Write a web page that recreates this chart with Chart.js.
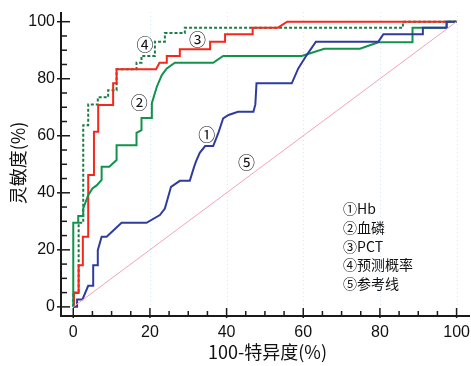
<!DOCTYPE html>
<html>
<head>
<meta charset="utf-8">
<script src="https://cdn.jsdelivr.net/npm/chart.js@4.4.0/dist/chart.umd.min.js"></script>
<style>
html,body{margin:0;padding:0;background:#fff;}
canvas{display:block;}
</style>
</head>
<body>
<canvas id="c" width="471" height="366"></canvas>
<script>
// ---- data ----
const tickValues = [0, 20, 40, 60, 80, 100];
const minorTickValues = [0,5,10,15,20,25,30,35,40,45,50,55,60,65,70,75,80,85,90,95,100];

// ① Hb
const hbX = [0,1,1,2.4,3.9,5.2,5.2,6.4,6.4,7.4,8.7,12.6,19.1,22.6,23.9,25.5,27.8,30.4,31.5,32,33,34.4,36.5,37.8,39.1,40.5,43,47,47.5,47.8,57,58.7,60.9,63.3,79.6,80.9,91.2,91.2,97.4,97.4,100];
const hbY = [0,0,2.6,2.6,7.4,7.4,14.6,14.6,19.9,24.6,24.6,29.5,29.5,32.2,34.5,42.1,44.2,44.2,49,50.9,54,56.4,56.4,60.8,66.1,67.3,68.4,68.4,71,78.4,78.4,83.6,88.3,93,93,95.6,95.6,97.9,97.9,100,100];

// ② 血磷
const pX = [0,0,1.3,1.3,2.6,2.6,3.9,5,6.1,7.4,7.4,9.4,11.3,11.3,16.5,16.5,17.8,17.8,20.5,20.5,21.8,23.1,24.4,26.5,36.5,39.1,59.6,65.5,74.8,79.6,88.5,88.5,97.4,97.4,100];
const pY = [0,29.5,29.5,31.9,31.9,34.5,39.2,41.5,42.6,44.5,49.1,49.1,51.5,56.7,56.7,61,62,66.2,66.2,71.4,77.2,81.3,83.6,85.6,85.6,88,88,90.5,90.5,92.8,92.8,97.9,97.9,100,100];

// ③ PCT
const pctX = [0,0.2,0.2,1.4,1.4,2.5,2.5,3.9,3.9,5.4,5.4,6.5,6.5,10.4,10.4,11.3,11.3,21.6,22.5,24.4,24.4,27.8,27.8,35.7,35.7,39.6,39.6,46.8,46.8,53.4,55.8,100];
const pctY = [0,0,4.9,4.9,14.6,14.6,24.6,24.6,46.2,46.2,61.4,61.4,70.8,70.8,78.4,78.4,83.3,83.3,85.6,85.6,88,88,90.3,90.3,93,93,95.6,95.6,97.9,97.9,100,100];

// ④ 预测概率
const probX = [0,0,1.4,1.4,2.6,2.6,3.9,3.9,6.4,6.4,9.1,9.1,11.3,11.3,16.5,16.5,17.8,17.8,21.3,21.3,23.9,23.9,29.1,29.1,86,86,100];
const probY = [0,5,5,29.5,29.5,63.7,63.7,71,71,73.5,73.5,76,76,83.3,83.3,85.6,85.6,88,88,93,93,96,96,97.9,97.9,100,100];

// ⑤ 参考线
const refX = [0, 100];
const refY = [0, 100];

const curveLabels = ['①', '②', '③', '④', '⑤'];
const curveLabelX = [34.8, 17.2, 32.4, 18.7, 45.2];
const curveLabelY = [60.5, 71.7, 93.8, 92.1, 50.5];

const legendTexts = ['①Hb', '②血磷', '③PCT', '④预测概率', '⑤参考线'];
const xTitle = '100-特异度(%)';
const yTitle = '灵敏度(%)';

const pts = (xs, ys) => xs.map((x, i) => ({x: x, y: ys[i]}));

const CJK = '"Noto Sans CJK SC", "Noto Sans", sans-serif';

const decor = {
  id: 'decor',
  beforeDatasetsDraw(chart) {
    const ctx = chart.ctx, xs = chart.scales.x, ys = chart.scales.y;
    ctx.save();
    ctx.strokeStyle = 'rgba(150,200,225,0.4)';
    ctx.lineWidth = 1;
    ctx.setLineDash([1, 3]);
    tickValues.forEach(v => {
      if (v === 0) return;
      const px = Math.round(xs.getPixelForValue(v)) + 0.5;
      ctx.beginPath();
      ctx.moveTo(px, chart.chartArea.top);
      ctx.lineTo(px, ys.getPixelForValue(0));
      ctx.stroke();
    });
    ctx.restore();
  },
  afterDraw(chart) {
    const ctx = chart.ctx, xs = chart.scales.x, ys = chart.scales.y, a = chart.chartArea;
    ctx.save();
    // axes lines
    ctx.strokeStyle = '#1a1a1a';
    ctx.lineWidth = 2;
    ctx.beginPath();
    ctx.moveTo(a.left, a.top);
    ctx.lineTo(a.left, a.bottom);
    ctx.lineTo(a.right, a.bottom);
    ctx.stroke();
    // ticks
    ctx.lineWidth = 1.5;
    minorTickValues.forEach(v => {
      const major = v % 20 === 0;
      const py = ys.getPixelForValue(v);
      ctx.beginPath();
      if (major) { ctx.moveTo(a.left - 4, py); ctx.lineTo(a.left + 9, py); }
      else { ctx.moveTo(a.left, py); ctx.lineTo(a.left + 6, py); }
      ctx.stroke();
      const px = xs.getPixelForValue(v);
      ctx.beginPath();
      if (major) { ctx.moveTo(px, a.bottom + 2); ctx.lineTo(px, a.bottom - 8); }
      else { ctx.moveTo(px, a.bottom); ctx.lineTo(px, a.bottom - 5); }
      ctx.stroke();
    });
    // curve labels
    ctx.fillStyle = '#111';
    ctx.font = '17px ' + CJK;
    ctx.textAlign = 'center';
    ctx.textBaseline = 'middle';
    curveLabels.forEach((t, i) => {
      ctx.fillText(t, xs.getPixelForValue(curveLabelX[i]), ys.getPixelForValue(curveLabelY[i]));
    });
    // legend text
    ctx.font = '14px ' + CJK;
    ctx.textAlign = 'left';
    const lx = xs.getPixelForValue(70.4);
    legendTexts.forEach((t, i) => {
      ctx.fillText(t, lx, ys.getPixelForValue(34.3) + i * 18.6);
    });
    // axis titles
    ctx.font = '18px ' + CJK;
    ctx.textAlign = 'center';
    ctx.fillText(xTitle, (a.left + a.right) / 2 + 2, 352);
    ctx.translate(18.5, 163);
    ctx.rotate(-Math.PI / 2);
    ctx.fillText(yTitle, 0, 0);
    ctx.restore();
  }
};

new Chart(document.getElementById('c'), {
  type: 'line',
  data: {
    datasets: [
      {label: '参考线', data: pts(refX, refY), borderColor: '#f2a3b6', borderWidth: 1, pointRadius: 0},
      {label: 'Hb', data: pts(hbX, hbY), borderColor: '#2f3c9e', borderWidth: 2, pointRadius: 0},
      {label: '血磷', data: pts(pX, pY), borderColor: '#12924a', borderWidth: 2, pointRadius: 0},
      {label: 'PCT', data: pts(pctX, pctY), borderColor: '#f5281c', borderWidth: 2, pointRadius: 0},
      {label: '预测概率', data: pts(probX, probY), borderColor: '#1a7d45', borderWidth: 2, borderDash: [3, 2], pointRadius: 0}
    ]
  },
  options: {
    responsive: false,
    animation: false,
    devicePixelRatio: 1,
    layout: {padding: {top: 12, right: 1, left: 0, bottom: 0}},
    elements: {line: {tension: 0, fill: false, borderJoinStyle: 'miter'}},
    plugins: {legend: {display: false}, tooltip: {enabled: false}},
    scales: {
      x: {
        type: 'linear', min: -3.2, max: 103.5,
        afterBuildTicks: s => { s.ticks = tickValues.map(v => ({value: v})); },
        afterFit: s => { s.height = 50; s.paddingLeft = 0; s.paddingRight = 0; },
        grid: {display: false, drawTicks: false},
        border: {display: false},
        ticks: {font: {size: 16, family: '"Liberation Sans", Arial, sans-serif'}, color: '#111', padding: 7, maxRotation: 0, autoSkip: false}
      },
      y: {
        type: 'linear', min: -3.2, max: 103.4,
        afterBuildTicks: s => { s.ticks = tickValues.map(v => ({value: v})); },
        afterFit: s => { s.width = 61; s.paddingTop = 0; s.paddingBottom = 0; },
        grid: {display: false, drawTicks: false},
        border: {display: false},
        ticks: {font: {size: 16, family: '"Liberation Sans", Arial, sans-serif'}, color: '#111', padding: 6, autoSkip: false}
      }
    }
  },
  plugins: [decor]
});
</script>
</body>
</html>
